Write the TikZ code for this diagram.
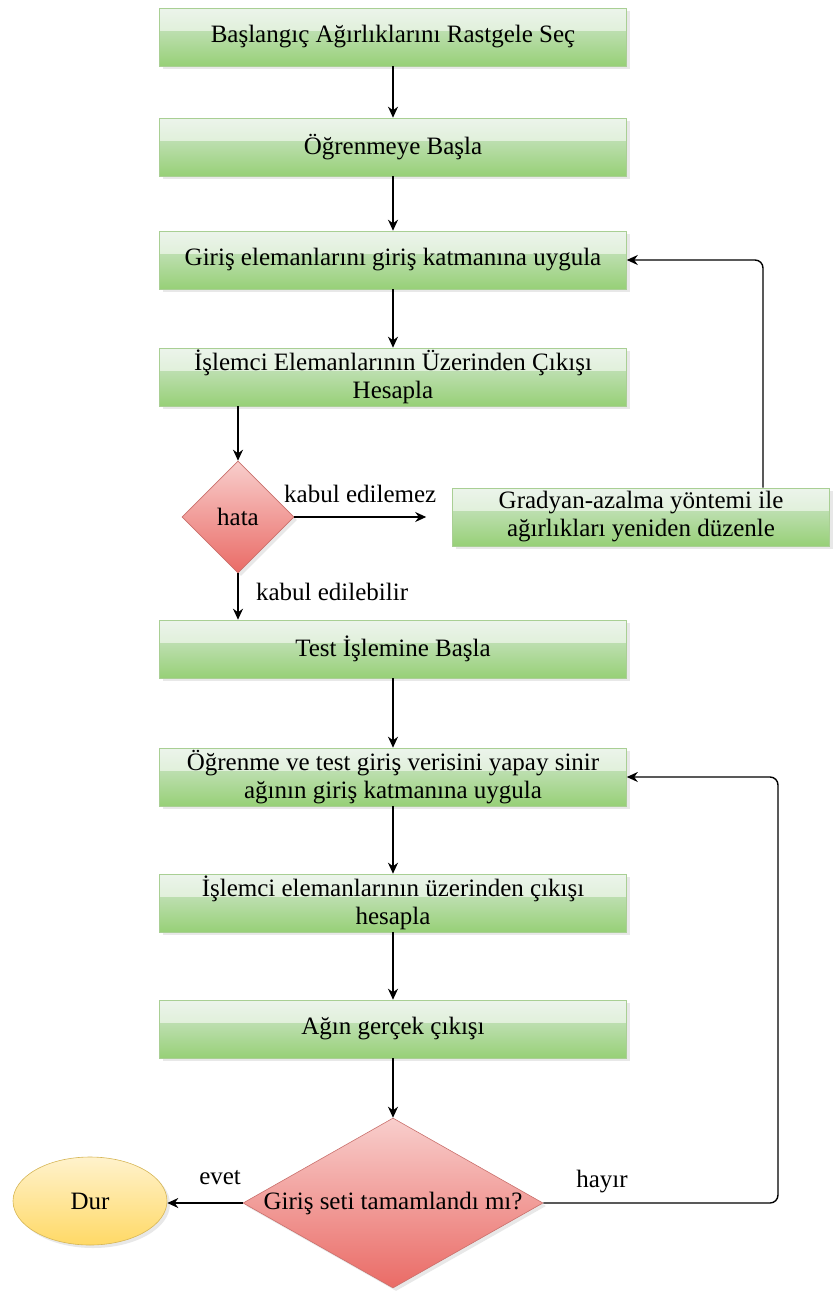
\documentclass[tikz,border=0pt]{standalone}
\usepackage{fontspec}
\setmainfont{Liberation Serif}
\usetikzlibrary{calc,positioning,shapes.geometric,arrows.meta,shadows}
\definecolor{grtop}{HTML}{D5E8D4}
\definecolor{grbot}{HTML}{97D077}
\definecolor{grline}{HTML}{A9CF94}
\definecolor{rdtop}{HTML}{F8CECC}
\definecolor{rdbot}{HTML}{EA6B66}
\definecolor{rdline}{HTML}{C9706C}
\definecolor{yltop}{HTML}{FFF2CC}
\definecolor{ylbot}{HTML}{FFD966}
\definecolor{ylline}{HTML}{D6B656}
\begin{document}
\begin{tikzpicture}[x=1pt,y=-1pt,>={Stealth[length=11pt,width=10pt]},
  font=\fontsize{25}{28}\selectfont,
  glass/.style={path picture={\fill[white,opacity=0.55] (path picture bounding box.north west)
    rectangle ($(path picture bounding box.north east)!0.4!(path picture bounding box.south east)$);}},
  shadowed/.style={drop shadow={shadow xshift=3pt,shadow yshift=-3pt,opacity=0.18}},
  stepbox/.style={draw=grline,line width=0.6pt,top color=grtop,bottom color=grbot,
    minimum width=467pt,minimum height=58pt,align=center,inner sep=1pt,shadowed,glass},
  decide/.style={diamond,draw=rdline,line width=0.6pt,top color=rdtop,bottom color=rdbot,
    inner sep=0pt,shadowed},
  endnode/.style={ellipse,draw=ylline,line width=0.6pt,top color=yltop,bottom color=ylbot,
    minimum width=154pt,minimum height=88pt,shadowed},
  flow/.style={->,line width=1.4pt,rounded corners=8pt}]
\useasboundingbox (0,0) rectangle (839,1291);
% main column
\node[stepbox] (start) at (393,37) {Başlangıç Ağırlıklarını Rastgele Seç};
\node[stepbox] (learn) at (393,147) {Öğrenmeye Başla};
\node[stepbox] (apply) at (393,260) {Giriş elemanlarını giriş katmanına uygula};
\node[stepbox] (calc) at (393,377) {İşlemci Elemanlarının Üzerinden Çıkışı\\Hesapla};
\node[decide,minimum width=112pt,minimum height=112pt] (err) at (238,517) {hata};
\node[stepbox,minimum width=377pt] (adjust) at (641,517) {Gradyan-azalma yöntemi ile\\ağırlıkları yeniden düzenle};
\node[stepbox] (test) at (393,649) {Test İşlemine Başla};
\node[stepbox] (feed) at (393,777) {Öğrenme ve test giriş verisini yapay sinir\\ağının giriş katmanına uygula};
\node[stepbox] (outcalc) at (393,903) {İşlemci elemanlarının üzerinden çıkışı\\hesapla};
\node[stepbox] (out) at (393,1029) {Ağın gerçek çıkışı};
\node[decide,minimum width=300pt,minimum height=170pt,
  label=center:{Giriş seti tamamlandı mı?}] (done) at (393,1203) {};
\node[endnode] (stop) at (90,1201) {Dur};
\coordinate (loopA) at (763,260);
\coordinate (loopB) at (778,1203);
% connectors
\foreach \a/\b in {start/learn,learn/apply,apply/calc,test/feed,feed/outcalc,outcalc/out,out/done}
  \draw[flow] (\a) -- (\b);
\draw[flow] (calc.south -| err.north) -- (err.north);
\draw[flow] (err.east) -- node[above=10pt]{kabul edilemez} ([xshift=-26pt]adjust.west);
\draw[flow] (err.south) -- node[right=14pt,pos=0.4]{kabul edilebilir} (err.south |- test.north);
\draw[flow] (adjust.north -| loopA) -- (loopA) -- (apply.east);
\draw[flow] (done.west) -- node[above=14pt,pos=0.3]{evet} (done.west -| stop.east);
\draw[flow] (done.east) -- node[above=6pt,pos=0.25]{hayır} (loopB) |- (feed.east);
\end{tikzpicture}
\end{document}
